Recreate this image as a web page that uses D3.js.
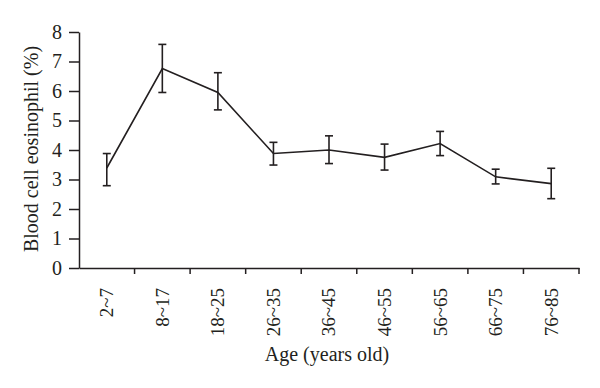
<!DOCTYPE html>
<html><head><meta charset="utf-8">
<script src="https://cdn.jsdelivr.net/npm/d3@7"></script>
<style>body{margin:0;background:#fff}svg{display:block}text{font-family:"Liberation Serif","DejaVu Serif",serif;fill:#231f20}</style>
</head><body><svg id="c" width="600" height="388"></svg>
<script>
const categories = ["2~7","8~17","18~25","26~35","36~45","46~55","56~65","66~75","76~85"];
const means = [3.39, 6.76, 5.95, 3.88, 4.0, 3.75, 4.22, 3.09, 2.86];
const upper = [3.88, 7.58, 6.62, 4.26, 4.48, 4.20, 4.63, 3.35, 3.38];
const lower = [2.79, 5.95, 5.36, 3.49, 3.54, 3.32, 3.81, 2.85, 2.35];
const yTicks = [0,1,2,3,4,5,6,7,8];

const svg = d3.select("#c");
const x = d3.scaleBand().domain(categories).range([79, 579]);
const y = d3.scaleLinear().domain([0, 8]).range([268, 32]);
const col = "#231f20";

// x axis
const xa = svg.append("g").attr("transform","translate(0,268)")
  .call(d3.axisBottom(x).tickSize(0).tickSizeOuter(0));
xa.attr("font-size",null).attr("font-family",null);
xa.select(".domain").attr("stroke", col).attr("stroke-width",1.5);
xa.selectAll(".tick text").attr("transform","rotate(-90)").attr("text-anchor","end")
  .attr("x",-20).attr("y",0).attr("dy","0.34em").style("font-size","19px");
// boundary ticks
const bounds = categories.slice(1).map(c => x(c)).concat([x.range()[1]]);
svg.append("g").selectAll("line").data(bounds).join("line")
  .attr("x1",d=>d).attr("x2",d=>d)
  .attr("y1",268).attr("y2",274).attr("stroke",col).attr("stroke-width",1.5);

// y axis
const ya = svg.append("g").attr("transform","translate(79,0)")
  .call(d3.axisLeft(y).tickValues(yTicks).tickSize(10).tickSizeOuter(0).tickPadding(7));
ya.attr("font-size",null).attr("font-family",null);
ya.select(".domain").attr("stroke", col).attr("stroke-width",1.5);
ya.selectAll(".tick line").attr("stroke",col).attr("stroke-width",1.5);
ya.selectAll(".tick text").style("font-size","20px");

const cx = d => x(d) + x.bandwidth()/2;
const pts = categories.map((c,i)=>({c, m:means[i], u:upper[i], l:lower[i]}));

// line
svg.append("path").datum(pts)
  .attr("d", d3.line().x(d=>cx(d.c)).y(d=>y(d.m)))
  .attr("fill","none").attr("stroke",col).attr("stroke-width",1.6);

// error bars
const eb = svg.append("g").attr("stroke",col).attr("stroke-width",1.6);
eb.selectAll(".v").data(pts).join("line")
  .attr("x1",d=>cx(d.c)).attr("x2",d=>cx(d.c)).attr("y1",d=>y(d.u)).attr("y2",d=>y(d.l));
eb.selectAll(".t").data(pts).join("line")
  .attr("x1",d=>cx(d.c)-4).attr("x2",d=>cx(d.c)+4).attr("y1",d=>y(d.u)).attr("y2",d=>y(d.u));
eb.selectAll(".b").data(pts).join("line")
  .attr("x1",d=>cx(d.c)-4).attr("x2",d=>cx(d.c)+4).attr("y1",d=>y(d.l)).attr("y2",d=>y(d.l));

// titles
svg.append("text").attr("x",327).attr("y",361).attr("text-anchor","middle").style("font-size","20px")
  .text("Age (years old)");
svg.append("text").attr("transform","translate(38,149) rotate(-90)").attr("text-anchor","middle").style("font-size","20px")
  .text("Blood cell eosinophil (%)");
</script></body></html>
